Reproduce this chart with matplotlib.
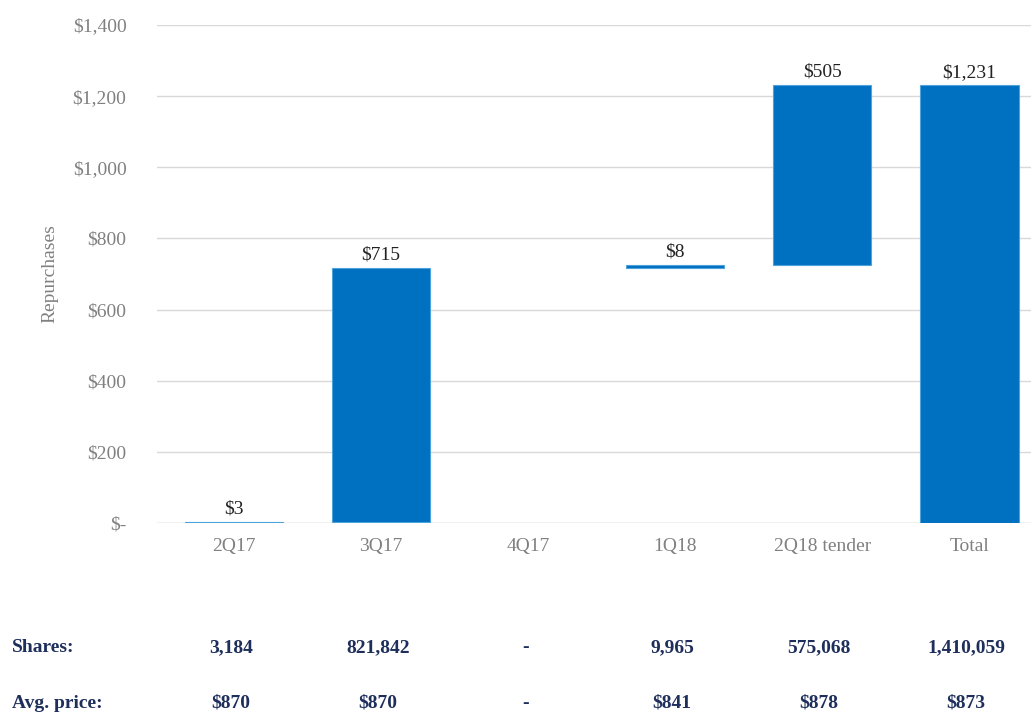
import numpy as np
import matplotlib
matplotlib.use("Agg")
import matplotlib.pyplot as plt

plt.rcParams['font.family'] = ['Liberation Serif', 'DejaVu Serif']

categories = ["2Q17", "3Q17", "4Q17", "1Q18", "2Q18 tender", "Total"]
steps = [3, 715, 0, 8, 505]
total = 1231
value_labels = ["$3", "$715", "", "$8", "$505", "$1,231"]
shares = ["3,184", "821,842", "-", "9,965", "575,068", "1,410,059"]
avg_price = ["$870", "$870", "-", "$841", "$878", "$873"]
yticks = [0, 200, 400, 600, 800, 1000, 1200, 1400]
ytick_labels = ["$-", "$200", "$400", "$600", "$800", "$1,000", "$1,200", "$1,400"]

heights = np.array(steps + [total], dtype=float)
bottoms = np.concatenate([[0], np.cumsum(steps)[:-1], [0]])

blue = "#0070C0"
navy = "#1F2F5C"
gray = "#808080"

fig = plt.figure(figsize=(10.31, 7.16), dpi=100)
ax = fig.add_axes([157/1031, 1 - 523/716, (1031-157)/1031, (523-25)/716])

x = np.arange(len(categories))
lw = [0.8 if h > 0 else 0 for h in heights]
ax.bar(x, heights, bottom=bottoms, width=0.67, color=blue, edgecolor="#4FA3DD",
       linewidth=lw, zorder=3)
for xi, b, h, lab in zip(x, bottoms, heights, value_labels):
    if lab:
        ax.text(xi, b + h + 12, lab, ha="center", va="bottom", fontsize=14, color="#222222")

ax.set_xlim(-0.524, 5.42)
ax.set_ylim(0, 1400)
ax.set_yticks(yticks)
ax.set_yticklabels(ytick_labels)
ax.set_xticks(x)
ax.set_xticklabels(categories)
ax.tick_params(axis="both", length=0, labelsize=14, labelcolor=gray)
ax.tick_params(axis="y", pad=22)
ax.tick_params(axis="x", pad=11)
ax.grid(axis="y", color="#D9D9D9", linewidth=1, zorder=0)
for s in ax.spines.values():
    s.set_visible(False)
ax.axhline(0, color="#D9D9D9", linewidth=1, zorder=1)
ax.set_ylabel("Repurchases", fontsize=14, color=gray, labelpad=10)

# table rows below chart
for row_y, name, vals in [(648, "Shares:", shares), (703, "Avg. price:", avg_price)]:
    fy = 1 - row_y / 716
    fig.text(12/1031, fy, name, ha="left", va="center", fontsize=14,
             fontweight="bold", color=navy)
    for xi, v in zip(x, vals):
        fx = ax.transData.transform((xi, 0))[0] / fig.bbox.width
        fig.text(fx - 3/1031, fy, v, ha="center", va="center", fontsize=14,
                 fontweight="bold", color=navy)

fig.savefig("out.png", dpi=100)
